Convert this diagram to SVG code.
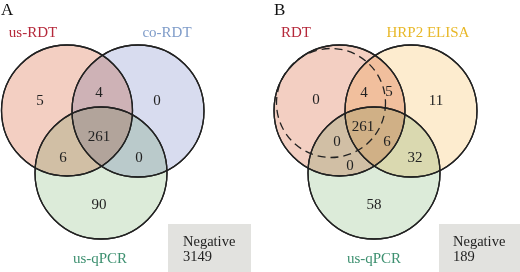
<svg xmlns="http://www.w3.org/2000/svg" width="520" height="272" viewBox="0 0 520 272">
<style>
text{font-family:"Liberation Serif","Times New Roman",serif;font-size:15px;fill:#222;text-anchor:middle}
.panel{font-size:17px;text-anchor:start;fill:#111}
.c{stroke:#222;stroke-width:1.3;mix-blend-mode:multiply}
.ring{fill:none;stroke:#222;stroke-width:1.3}
.pink{fill:#f3cfc2}.blue{fill:#d8dcef}.green{fill:#dcebd9}.yellow{fill:#fdeccf}
.neg{fill:#e2e2df}
.nt{text-anchor:start;font-size:14.5px}
</style>
<rect width="520" height="272" fill="#fff"/>
<g id="panelA">
<text class="panel" x="1" y="15">A</text>
<g id="A-usRDT"><circle class="c pink" cx="67" cy="110.5" r="65.5"/><text x="33" y="37" style="fill:#b5283a">us-RDT</text></g>
<g id="A-coRDT"><circle class="c blue" cx="138" cy="111" r="66"/><text x="167" y="37" style="fill:#7f9cc9">co-RDT</text></g>
<g id="A-usqPCR"><circle class="c green" cx="101" cy="173" r="66"/><text x="100" y="263" style="fill:#3d9070">us-qPCR</text></g>
<g id="A-rings"><circle class="ring" cx="67" cy="110.5" r="65.5"/><circle class="ring" cx="138" cy="111" r="66"/><circle class="ring" cx="101" cy="173" r="66"/></g>
<g id="A-counts">
<text x="40" y="105">5</text><text x="99" y="97">4</text><text x="157" y="105">0</text>
<text x="99" y="141">261</text><text x="63" y="162">6</text><text x="139" y="162">0</text><text x="99" y="209">90</text>
</g>
<g id="A-negative"><rect class="neg" x="168" y="224" width="83" height="48"/><text class="nt" x="183" y="246">Negative</text><text class="nt" x="183" y="261">3149</text></g>
</g>
<g id="panelB">
<text class="panel" x="274" y="15">B</text>
<g id="B-RDT"><circle class="c pink" cx="339.5" cy="110.5" r="65.5"/><text x="296" y="37" style="fill:#b5283a">RDT</text></g>
<g id="B-HRP2"><circle class="c yellow" cx="411" cy="111" r="66"/><text x="428" y="37" style="fill:#e8b828">HRP2 ELISA</text></g>
<g id="B-usqPCR"><circle class="c green" cx="374" cy="173" r="66"/><text x="374" y="263" style="fill:#3d9070">us-qPCR</text></g>
<g id="B-rings"><circle class="ring" cx="339.5" cy="110.5" r="65.5"/><circle class="ring" cx="411" cy="111" r="66"/><circle class="ring" cx="374" cy="173" r="66"/>
<circle class="ring" cx="331" cy="103" r="54.5" stroke-dasharray="8 5"/></g>
<g id="B-counts">
<text x="316" y="104">0</text><text x="364" y="97">4</text><text x="389" y="96">5</text><text x="436" y="105">11</text>
<text x="363" y="131">261</text><text x="337" y="146">0</text><text x="387" y="146">6</text>
<text x="350" y="170">0</text><text x="415" y="162">32</text><text x="374" y="209">58</text>
</g>
<g id="B-negative"><rect class="neg" x="439" y="224" width="81" height="48"/><text class="nt" x="453" y="246">Negative</text><text class="nt" x="453" y="261">189</text></g>
</g>
</svg>
